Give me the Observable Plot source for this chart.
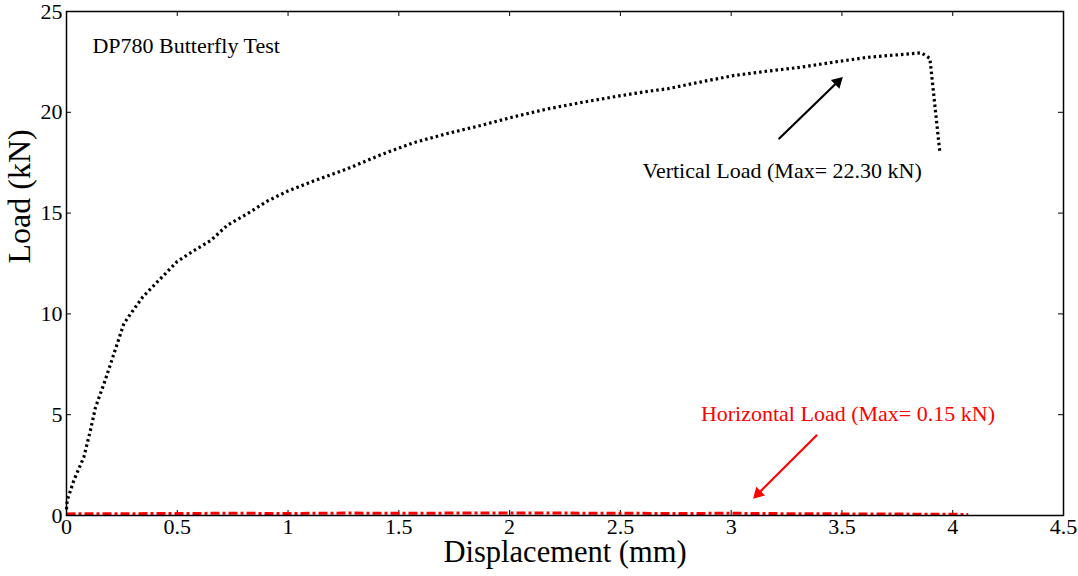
<!DOCTYPE html>
<html>
<head>
<meta charset="utf-8">
<script src="https://cdn.jsdelivr.net/npm/d3@7"></script>
<script src="https://cdn.jsdelivr.net/npm/@observablehq/plot@0.6"></script>
<style>
  html, body { margin: 0; padding: 0; background: #fff; }
  #chart svg { display: block; }
</style>
</head>
<body>
<div id="chart"></div>
<script>
// Vertical load (kN) vs displacement (mm)
const vertDisp = [0.000, 0.003, 0.033, 0.078, 0.108, 0.131, 0.169, 0.199, 0.229, 0.259, 0.289, 0.345, 0.420, 0.500, 0.575, 0.651, 0.726, 0.816, 0.907, 1.000, 1.117, 1.268, 1.420, 1.569, 1.720, 1.871, 2.020, 2.172, 2.330, 2.488, 2.600, 2.714, 2.860, 3.015, 3.170, 3.317, 3.470, 3.618, 3.750, 3.859, 3.897, 3.942];
const vertLoad = [0.30, 0.74, 1.74, 2.89, 4.22, 5.37, 6.53, 7.52, 8.52, 9.51, 10.00, 10.85, 11.70, 12.60, 13.14, 13.64, 14.40, 14.97, 15.60, 16.10, 16.60, 17.20, 17.90, 18.50, 18.95, 19.35, 19.78, 20.17, 20.50, 20.80, 21.00, 21.17, 21.50, 21.83, 22.05, 22.24, 22.50, 22.73, 22.85, 22.95, 22.67, 18.00];

// Horizontal load (kN) vs displacement (mm)
const horzDisp = [0.00, 0.25, 0.50, 0.75, 1.00, 1.25, 1.50, 1.75, 2.00, 2.25, 2.50, 2.75, 3.00, 3.25, 3.50, 3.75, 4.00, 4.07];
const horzLoad = [0.08, 0.09, 0.10, 0.11, 0.10, 0.12, 0.11, 0.12, 0.13, 0.12, 0.11, 0.10, 0.11, 0.09, 0.08, 0.07, 0.06, 0.05];

// Axis ticks
const xTicks = [0, 0.5, 1, 1.5, 2, 2.5, 3, 3.5, 4, 4.5];
const yTicks = [0, 5, 10, 15, 20, 25];

// Annotations
const titleText = ["DP780 Butterfly Test"];
const titlePos = {x: 0.117, y: 23.3};
const vertLabel = ["Vertical Load (Max= 22.30 kN)"];
const vertLabelPos = {x: 3.23, y: 17.11};
const horzLabel = ["Horizontal Load (Max= 0.15 kN)"];
const horzLabelPos = {x: 3.527, y: 5.06};
const vertArrow = [{x1: 3.217, y1: 18.7, x2: 3.497, y2: 21.68}];
const horzArrow = [{x1: 3.385, y1: 3.97, x2: 3.106, y2: 0.91}];

const vert = vertDisp.map((d, i) => ({x: d, y: vertLoad[i]}));
const horz = horzDisp.map((d, i) => ({x: d, y: horzLoad[i]}));

const W = 1078, H = 576;
const mL = 66, mR = 15, mT = 11, mB = 61;
const plotH = H - mT - mB;
const plotW = W - mL - mR;
const tick = 5;
const font = "'Liberation Serif', 'Times New Roman', serif";

const chart = Plot.plot({
  width: W,
  height: H,
  marginLeft: mL,
  marginRight: mR,
  marginTop: mT,
  marginBottom: mB,
  style: {fontFamily: font, background: "#fff", color: "#000"},
  x: {domain: [0, 4.5]},
  y: {domain: [0, 25]},
  marks: [
    // tick labels
    Plot.axisX({ticks: xTicks, tickSize: 0, tickPadding: 3, fontSize: 22, tickFormat: d => String(d), label: null, anchor: "bottom"}),
    Plot.axisY({ticks: yTicks, tickSize: 0, tickPadding: 4, fontSize: 22, tickFormat: d => String(d), label: null, anchor: "left"}),
    // inward ticks on all four sides
    Plot.tickX(xTicks, {x: d => d, stroke: "#000", strokeWidth: 1, insetTop: plotH - tick}),
    Plot.tickX(xTicks, {x: d => d, stroke: "#000", strokeWidth: 1, insetBottom: plotH - tick}),
    Plot.tickY(yTicks, {y: d => d, stroke: "#000", strokeWidth: 1, insetRight: plotW - tick}),
    Plot.tickY(yTicks, {y: d => d, stroke: "#000", strokeWidth: 1, insetLeft: plotW - tick}),
    // data
    Plot.line(horz, {x: "x", y: "y", stroke: "#ff0000", strokeWidth: 3, strokeDasharray: "9,3,3,3", strokeLinecap: "butt"}),
    Plot.line(vert, {x: "x", y: "y", stroke: "#000", strokeWidth: 3.2, strokeDasharray: "2.5,3", strokeLinecap: "butt", curve: "linear"}),
    // arrows (shaft + filled head)
    Plot.arrow(vertArrow, {x1: "x1", y1: "y1", x2: "x2", y2: "y2", stroke: "#000", strokeWidth: 2.2, headLength: 0, insetEnd: 7}),
    Plot.dot(vertArrow, {x: "x2", y: "y2", symbol: "triangle", r: 4.6, fill: "#000", stroke: "none", rotate: 46, dx: -3.6, dy: 3.5}),
    Plot.arrow(horzArrow, {x1: "x1", y1: "y1", x2: "x2", y2: "y2", stroke: "#ff0000", strokeWidth: 2.2, headLength: 0, insetEnd: 7}),
    Plot.dot(horzArrow, {x: "x2", y: "y2", symbol: "triangle", r: 4.6, fill: "#ff0000", stroke: "none", rotate: 225, dx: 3.5, dy: -3.5}),
    // annotation texts
    Plot.text(titleText, {x: () => titlePos.x, y: () => titlePos.y, text: d => d, textAnchor: "start", fontSize: 22, fill: "#000"}),
    Plot.text(vertLabel, {x: () => vertLabelPos.x, y: () => vertLabelPos.y, text: d => d, textAnchor: "middle", fontSize: 22, fill: "#000"}),
    Plot.text(horzLabel, {x: () => horzLabelPos.x, y: () => horzLabelPos.y, text: d => d, textAnchor: "middle", fontSize: 22, fill: "#ff0000"}),
    // axis labels
    Plot.text(["Displacement (mm)"], {frameAnchor: "bottom", text: d => d, dy: 46, fontSize: 30.5, fill: "#000"}),
    Plot.text(["Load (kN)"], {frameAnchor: "left", text: d => d, rotate: -90, dx: -47, fontSize: 32, fill: "#000"}),
    Plot.frame({stroke: "#000", strokeWidth: 1.5})
  ]
});

document.getElementById("chart").appendChild(chart);
</script>
</body>
</html>
